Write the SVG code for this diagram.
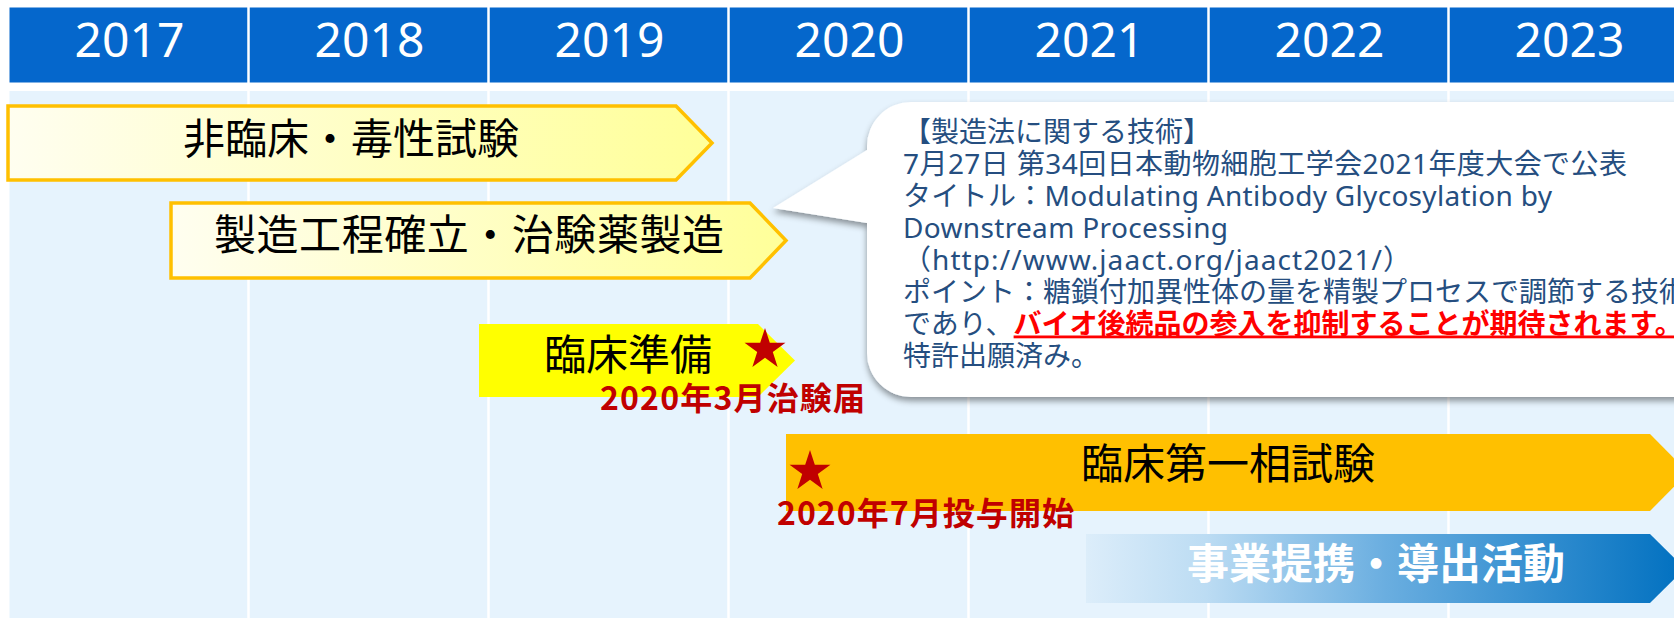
<svg xmlns="http://www.w3.org/2000/svg" width="1674" height="619" viewBox="0 0 1674 619">
<style>
.yr{font-family:'Noto Sans','Liberation Sans',sans-serif;font-size:48px;fill:#fff;text-anchor:middle}
.big{font-family:'Noto Sans CJK JP',sans-serif;font-size:42px;fill:#000;text-anchor:middle}
.bigw{font-family:'Noto Sans CJK JP',sans-serif;font-size:42px;font-weight:bold;fill:#fff;text-anchor:middle}
.red{font-family:'Noto Sans CJK JP',sans-serif;font-size:32px;font-weight:bold;fill:#c00000}
.co{font-family:'Noto Sans','Noto Sans CJK JP',sans-serif;font-size:28px;fill:#254e80}
.hl{fill:#ff0000;font-weight:bold;text-decoration:underline}
.div{stroke:#fff;stroke-width:2.5}
.star{fill:#c00000}
</style>
<defs>
<linearGradient id="gy" x1="0" y1="0" x2="1" y2="0">
<stop offset="0" stop-color="#fffef0"/>
<stop offset="1" stop-color="#ffff99"/>
</linearGradient>
<linearGradient id="gb" x1="0" y1="0" x2="1" y2="0">
<stop offset="0" stop-color="#dcedfa"/>
<stop offset="0.2" stop-color="#bcdcf3"/>
<stop offset="0.5" stop-color="#6aaee0"/>
<stop offset="1" stop-color="#0070c0"/>
</linearGradient>
<filter id="sh" x="-10%" y="-10%" width="130%" height="130%">
<feDropShadow dx="0" dy="4" stdDeviation="3" flood-color="#000" flood-opacity="0.4"/>
</filter>
<path id="st" d="M0,-21.5 L4.82,-6.63 L20.45,-6.64 L7.8,2.53 L12.64,17.39 L0,8.2 L-12.64,17.39 L-7.8,2.53 L-20.45,-6.64 L-4.82,-6.63 Z"/>
</defs>
<rect width="1674" height="619" fill="#fff"/>
<g id="header">
<rect x="9.5" y="7.5" width="1670" height="75" fill="#0567cc"/>
<rect x="9.5" y="91" width="1670" height="527" fill="#e6f3fd"/>
<g class="div">
<line x1="248.5" y1="7" x2="248.5" y2="83"/><line x1="488.5" y1="7" x2="488.5" y2="83"/>
<line x1="728.5" y1="7" x2="728.5" y2="83"/><line x1="968.5" y1="7" x2="968.5" y2="83"/>
<line x1="1208.5" y1="7" x2="1208.5" y2="83"/><line x1="1448.5" y1="7" x2="1448.5" y2="83"/>
<line x1="248.5" y1="91" x2="248.5" y2="618"/><line x1="488.5" y1="91" x2="488.5" y2="618"/>
<line x1="728.5" y1="91" x2="728.5" y2="618"/><line x1="968.5" y1="91" x2="968.5" y2="618"/>
<line x1="1208.5" y1="91" x2="1208.5" y2="618"/><line x1="1448.5" y1="91" x2="1448.5" y2="618"/>
</g>
<text class="yr" x="129.5" y="57">2017</text>
<text class="yr" x="369.5" y="57">2018</text>
<text class="yr" x="609.5" y="57">2019</text>
<text class="yr" x="849.5" y="57">2020</text>
<text class="yr" x="1089.5" y="57">2021</text>
<text class="yr" x="1329.5" y="57">2022</text>
<text class="yr" x="1569.5" y="57">2023</text>
</g>
<g id="nonclinical">
<path d="M8,106 L676,106 L712,143 L676,180 L8,180 Z" fill="url(#gy)" stroke="#ffc000" stroke-width="3.5"/>
<text class="big" x="351" y="154">非臨床・毒性試験</text>
</g>
<g id="manufacturing">
<path d="M171,203 L750,203 L786,240.5 L750,278 L171,278 Z" fill="url(#gy)" stroke="#ffc000" stroke-width="3.5"/>
<text class="big" x="469" y="250" textLength="510">製造工程確立・治験薬製造</text>
</g>
<g id="callout">
<path d="M911,102 L1700,102 L1700,397 L911,397 A44,44 0 0 1 867,353 L867,223 L773,208 L867,150 L867,146 A44,44 0 0 1 911,102 Z" fill="#fff" filter="url(#sh)"/>
<text class="co" x="903" y="141.5">【製造法に関する技術】</text>
<text class="co" x="903" y="173.5" textLength="724">7月27日 第34回日本動物細胞工学会2021年度大会で公表</text>
<text class="co" x="903" y="205.5" textLength="649">タイトル：Modulating Antibody Glycosylation by</text>
<text class="co" x="903" y="237.5" textLength="325">Downstream Processing</text>
<text class="co" x="903" y="269.5" textLength="508">（http://www.jaact.org/jaact2021/）</text>
<text class="co" x="903" y="301.5">ポイント：糖鎖付加異性体の量を精製プロセスで調節する技術</text>
<text class="co" x="903" y="333.5">であり、<tspan class="hl">バイオ後続品の参入を抑制することが期待されます。</tspan></text>
<text class="co" x="903" y="365.5">特許出願済み。</text>
</g>
<g id="clinical-prep">
<path d="M479,324 L758,324 L795,360.5 L758,397 L479,397 Z" fill="#ffff00"/>
<text class="big" x="628" y="370">臨床準備</text>
<use href="#st" class="star" x="765" y="349.5"/>
</g>
<g id="phase1">
<path d="M786,434 L1650,434 L1688,472.5 L1650,511 L786,511 Z" fill="#ffc000"/>
<text class="big" x="1228" y="479">臨床第一相試験</text>
<use href="#st" class="star" x="810" y="471.5"/>
</g>
<g id="partnering">
<path d="M1086,534 L1650,534 L1685,568.5 L1650,603 L1086,603 Z" fill="url(#gb)"/>
<text class="bigw" x="1376" y="579">事業提携・導出活動</text>
</g>
<g id="milestones">
<text class="red" x="600" y="410" textLength="265">2020年3月治験届</text>
<text class="red" x="777" y="525" textLength="297">2020年7月投与開始</text>
</g>
<g id="connectors"/>
</svg>
